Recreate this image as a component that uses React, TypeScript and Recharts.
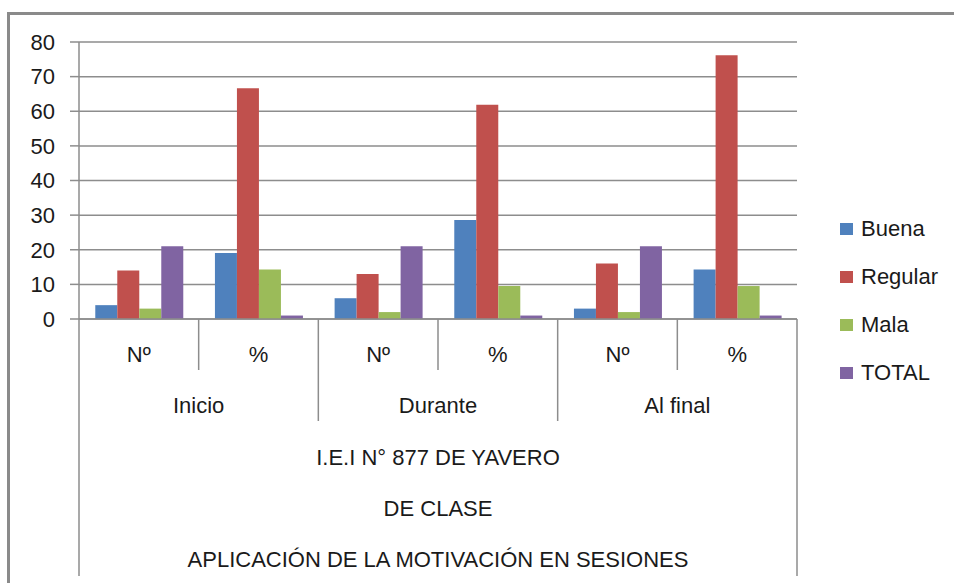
import { BarChart, Bar, XAxis, YAxis, CartesianGrid, Legend } from 'recharts';

// category labels (lower level) and the group each belongs to
const categories = ['Nº', '%', 'Nº', '%', 'Nº', '%'];
const groups = ['Inicio', 'Inicio', 'Durante', 'Durante', 'Al final', 'Al final'];
const titleLines = ['I.E.I N° 877 DE YAVERO', 'DE CLASE', 'APLICACIÓN DE LA MOTIVACIÓN EN SESIONES'];

// series values
const buena = [4, 19.05, 6, 28.57, 3, 14.29];
const regular = [14, 66.67, 13, 61.9, 16, 76.19];
const mala = [3, 14.29, 2, 9.52, 2, 9.52];
const total = [21, 1, 21, 1, 21, 1];

const yTicks = [0, 10, 20, 30, 40, 50, 60, 70, 80];

const series = [
  { key: 'Buena', color: '#4F81BD' },
  { key: 'Regular', color: '#C0504D' },
  { key: 'Mala', color: '#9BBB59' },
  { key: 'TOTAL', color: '#8064A2' },
];

const data = categories.map((c, i) => ({
  cat: c,
  group: groups[i],
  Buena: buena[i],
  Regular: regular[i],
  Mala: mala[i],
  TOTAL: total[i],
}));

const FONT = '"Liberation Sans", Arial, sans-serif';
const GRID = '#8d8d8d';
const TEXT = '#1a1a1a';

function MultiLevelTick(props: any) {
  const { x, y, payload, index } = props;
  const half = payload.offset;
  const left = x - half;
  const right = x + half;
  const n = categories.length;
  const lineLen = index === 0 ? 257 : index % 2 === 0 ? 102 : 51;
  const txt = { fontFamily: FONT, fontSize: 22, fill: TEXT, textAnchor: 'middle' as const };
  return (
    <g>
      <line x1={left} x2={left} y1={y} y2={y + lineLen} stroke={GRID} strokeWidth={1.5} />
      {index === n - 1 && <line x1={right} x2={right} y1={y} y2={y + 257} stroke={GRID} strokeWidth={1.5} />}
      <text x={x} y={y + 43} {...txt}>{payload.value}</text>
      {index % 2 === 1 && <text x={left} y={y + 94} {...txt}>{groups[index]}</text>}
      {index === n / 2 &&
        titleLines.map((t, k) => (
          <text key={k} x={left} y={y + 146 + k * 51} {...txt}>{t}</text>
        ))}
    </g>
  );
}

function LegendBox() {
  return (
    <div style={{ width: 130, paddingLeft: 43, boxSizing: 'border-box', fontFamily: FONT, fontSize: 22, color: TEXT }}>
      {series.map((s) => (
        <div key={s.key} style={{ display: 'flex', alignItems: 'center', height: 48 }}>
          <span style={{ width: 13, height: 12, background: s.color, marginRight: 8, flex: 'none' }} />
          <span>{s.key}</span>
        </div>
      ))}
    </div>
  );
}

export default function App() {
  return (
    <div style={{ position: 'absolute', left: 0, top: 0, width: 954, height: 583, overflow: 'hidden', background: '#fff' }}>
      <div style={{ position: 'absolute', left: 7, top: 12, width: 1000, height: 700, borderTop: '3px solid #8a8a8a', borderLeft: '3px solid #8a8a8a' }} />
      <div style={{ position: 'absolute', left: 0, top: 0 }}>
        <BarChart
          width={954}
          height={583}
          data={data}
          margin={{ top: 42, right: 27, bottom: 0, left: 0 }}
          barCategoryGap="13.6%"
          barGap={0}
        >
          <CartesianGrid vertical={false} stroke={GRID} strokeWidth={1.5} />
          <XAxis
            dataKey="cat"
            interval={0}
            height={264}
            tickSize={0}
            tickMargin={0}
            tickLine={false}
            axisLine={{ stroke: GRID, strokeWidth: 1.5 }}
            tick={<MultiLevelTick />}
          />
          <YAxis
            domain={[0, 80]}
            ticks={yTicks}
            width={79}
            tickSize={9}
            tickMargin={15}
            axisLine={{ stroke: GRID, strokeWidth: 1.5 }}
            tickLine={{ stroke: GRID, strokeWidth: 1.5 }}
            tick={{ fontFamily: FONT, fontSize: 22, fill: TEXT }}
          />
          <Legend layout="vertical" align="right" verticalAlign="middle" content={<LegendBox />} wrapperStyle={{ top: 205 }} />
          {series.map((s) => (
            <Bar key={s.key} dataKey={s.key} fill={s.color} isAnimationActive={false} />
          ))}
        </BarChart>
      </div>
    </div>
  );
}
